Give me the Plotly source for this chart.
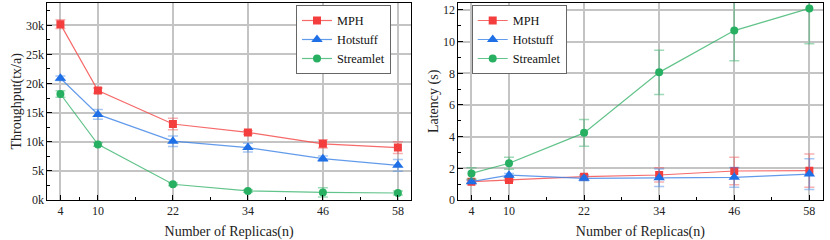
import plotly.graph_objects as go

replicas = [4, 10, 22, 34, 46, 58]
x_minor = [7, 16, 28, 40, 52]

series_names = ["MPH", "Hotstuff", "Streamlet"]

# Throughput (tx/s)
tp_mph = [30200, 18800, 13050, 11600, 9650, 9000]
tp_mph_err = [750, 450, 1000, 300, 700, 1000]
tp_hot = [20900, 14700, 10100, 9000, 7100, 5950]
tp_hot_err = [400, 850, 900, 750, 450, 1000]
tp_str = [18200, 9550, 2700, 1550, 1300, 1200]
tp_str_err = [550, 300, 200, 200, 800, 350]

# Latency (s)
lat_mph = [1.16, 1.26, 1.47, 1.58, 1.83, 1.85]
lat_mph_err = [0.10, 0.06, 0.12, 0.45, 0.87, 1.05]
lat_hot = [1.16, 1.57, 1.37, 1.41, 1.43, 1.64]
lat_hot_err = [0.10, 0.10, 0.15, 0.55, 0.63, 0.97]
lat_str = [1.68, 2.32, 4.24, 8.06, 10.70, 12.10]
lat_str_err = [0.36, 0.38, 0.85, 1.40, 1.90, 2.23]

tp_tickvals = [0, 5000, 10000, 15000, 20000, 25000, 30000]
tp_ticktext = ["0k", "5k", "10k", "15k", "20k", "25k", "30k"]
tp_minor = [2500, 7500, 12500, 17500, 22500, 27500, 32500]
lat_tickvals = [0, 2, 4, 6, 8, 10, 12]
lat_minor = [1, 3, 5, 7, 9, 11]

marker_colors = ["#f43d3d", "#1f6fe6", "#27b061"]
line_colors = ["rgba(244,80,80,0.85)", "rgba(60,130,230,0.8)", "rgba(45,175,100,0.75)"]
err_colors = ["rgba(244,80,80,0.45)", "rgba(60,130,230,0.45)", "rgba(45,175,100,0.45)"]
symbols = ["square", "triangle-up", "circle"]
sizes = [8, 10, 8]

FONT = "Liberation Serif"

fig = go.Figure()

tp_data = [(tp_mph, tp_mph_err), (tp_hot, tp_hot_err), (tp_str, tp_str_err)]
lat_data = [(lat_mph, lat_mph_err), (lat_hot, lat_hot_err), (lat_str, lat_str_err)]

for i, name in enumerate(series_names):
    y, e = tp_data[i]
    fig.add_trace(go.Scatter(
        x=replicas, y=y, name=name, mode="lines+markers",
        xaxis="x", yaxis="y", legend="legend",
        line=dict(color=line_colors[i], width=1.2),
        marker=dict(color=marker_colors[i], symbol=symbols[i], size=sizes[i], line=dict(width=0)),
        error_y=dict(type="data", array=e, visible=True, color=err_colors[i], thickness=1.5, width=5),
    ))
for i, name in enumerate(series_names):
    y, e = lat_data[i]
    fig.add_trace(go.Scatter(
        x=replicas, y=y, name=name, mode="lines+markers",
        xaxis="x2", yaxis="y2", legend="legend2",
        line=dict(color=line_colors[i], width=1.2),
        marker=dict(color=marker_colors[i], symbol=symbols[i], size=sizes[i], line=dict(width=0)),
        error_y=dict(type="data", array=e, visible=True, color=err_colors[i], thickness=1.5, width=5),
    ))

y_dom = [40 / 240, 237.3 / 240]
xcommon = dict(
    range=[1.9, 60.1], tickvals=replicas, ticks="inside", ticklen=5, tickcolor="black",
    showline=True, linecolor="black", linewidth=1, mirror=True, automargin=False,
    showgrid=True, gridcolor="#c4c4c4", gridwidth=1.5, zeroline=False,
    tickfont=dict(family=FONT, size=12, color="#222"),
    minor=dict(tickvals=x_minor, ticks="inside", ticklen=3, tickcolor="black", showgrid=False),
    title=dict(text="Number of Replicas(n)", font=dict(family=FONT, size=14, color="#222"), standoff=8),
)
ycommon = dict(
    ticks="inside", ticklen=5, tickcolor="black", automargin=False,
    showline=True, linecolor="black", linewidth=1, mirror=True,
    showgrid=True, gridcolor="#c4c4c4", gridwidth=1.5, zeroline=False,
    tickfont=dict(family=FONT, size=12, color="#222"),
)

legend_common = dict(
    xanchor="left", yanchor="top", bgcolor="white", bordercolor="#666", borderwidth=1,
    font=dict(family=FONT, size=12.3, color="#111"), tracegroupgap=0, itemwidth=30,
)

fig.update_layout(
    width=830, height=240,
    margin=dict(l=0, r=0, t=0, b=0),
    paper_bgcolor="white", plot_bgcolor="white",
    font=dict(family=FONT, color="#222"),
    xaxis=dict(domain=[47.3 / 830, 411 / 830], anchor="y", **xcommon),
    xaxis2=dict(domain=[458.3 / 830, 822.5 / 830], anchor="y2", **xcommon),
    yaxis=dict(domain=y_dom, anchor="x", range=[0, 33880], tickvals=tp_tickvals, ticktext=tp_ticktext,
               minor=dict(tickvals=tp_minor, ticks="inside", ticklen=3, tickcolor="black", showgrid=False),
               title=dict(text="Throughput(tx/a)", font=dict(family=FONT, size=14, color="#222"), standoff=0),
               **ycommon),
    yaxis2=dict(domain=y_dom, anchor="x2", range=[0, 12.46], tickvals=lat_tickvals,
                minor=dict(tickvals=lat_minor, ticks="inside", ticklen=3, tickcolor="black", showgrid=False),
                title=dict(text="Latency (s)", font=dict(family=FONT, size=14, color="#222"), standoff=0),
                **ycommon),
    legend=dict(x=296 / 830, y=1 - 5 / 240, **legend_common),
    legend2=dict(x=471.7 / 830, y=1 - 5 / 240, **legend_common),
    showlegend=True,
)

fig.write_html("out.html", config={"displayModeBar": False},
               post_script="document.body.style.margin='0';document.body.style.overflow='hidden';")
